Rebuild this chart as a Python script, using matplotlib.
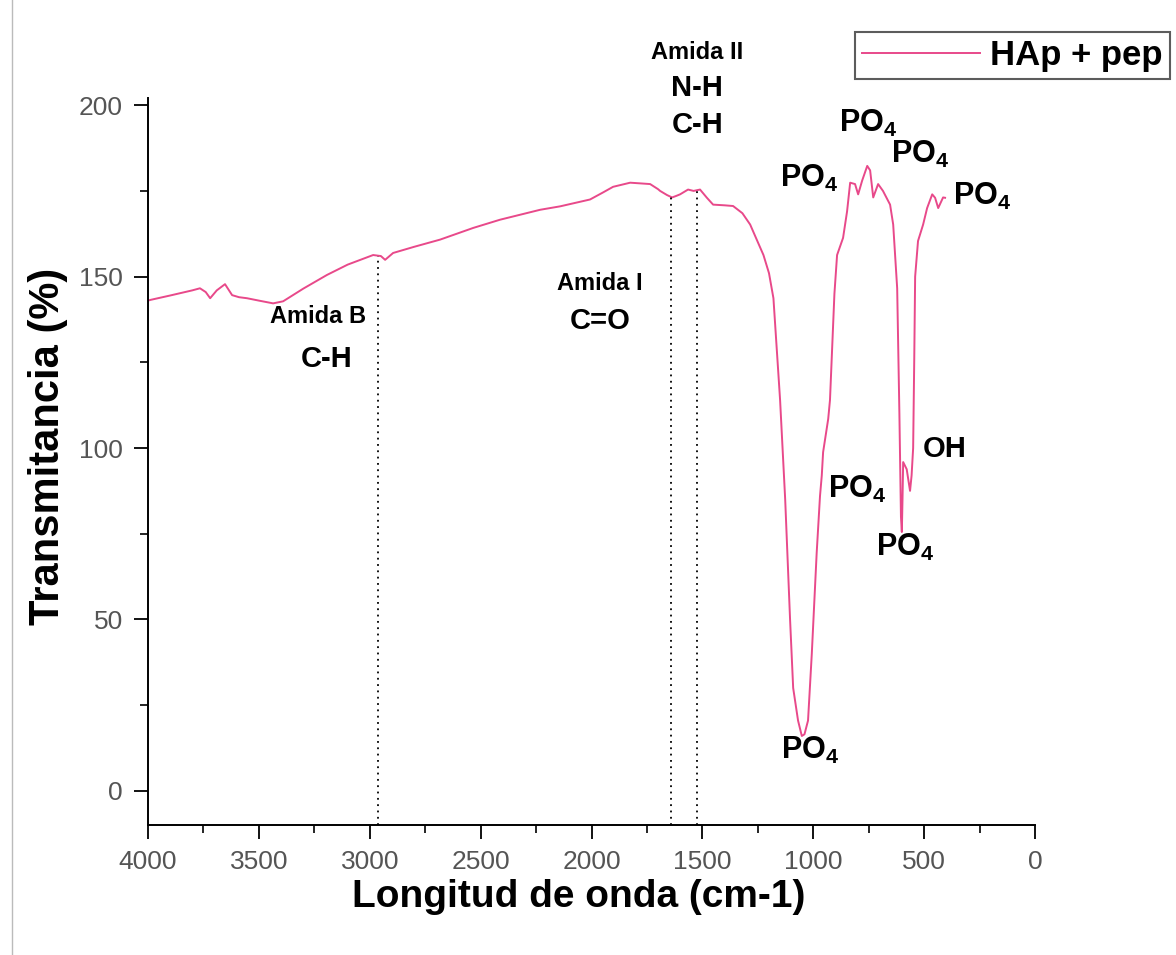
import numpy as np
import matplotlib.pyplot as plt
from matplotlib.lines import Line2D
from matplotlib.ticker import MultipleLocator

plt.rcParams['font.family'] = ['Liberation Sans', 'DejaVu Sans']
plt.rcParams['mathtext.fontset'] = 'custom'
plt.rcParams['mathtext.rm'] = 'Liberation Sans:bold'
plt.rcParams['mathtext.it'] = 'Liberation Sans:bold'
plt.rcParams['mathtext.bf'] = 'Liberation Sans:bold'

# FTIR spectrum (wavenumber cm-1, transmittance %)
wavenumber = [4000, 3990, 3900, 3800, 3766, 3740, 3720, 3690, 3653, 3621, 3590, 3554,
              3500, 3436, 3391, 3300, 3193, 3100, 2985, 2950, 2931, 2895, 2800, 2683,
              2534, 2413, 2232, 2142, 2007, 1950, 1903, 1826, 1780, 1736, 1700, 1691,
              1660, 1637, 1620, 1601, 1565, 1540, 1511, 1480, 1452, 1400, 1362, 1320,
              1285, 1250, 1225, 1200, 1180, 1150, 1127, 1105, 1091, 1069, 1052, 1040,
              1024, 1007, 985, 970, 962, 956, 933, 925, 905, 893, 866, 848, 834, 812,
              798, 780, 757, 744, 730, 708, 686, 654, 640, 622, 612, 605, 601, 598,
              595, 579, 570, 564, 557, 550, 545, 541, 528, 505, 487, 464, 451, 437,
              415, 406]
transmittance = [143.0, 143.2, 144.5, 146.0, 146.6, 145.5, 143.7, 146.0, 147.8, 144.6, 144.0, 143.7,
                 143.0, 142.2, 142.8, 146.5, 150.5, 153.5, 156.3, 156.0, 154.9, 156.9, 158.7, 160.8,
                 164.2, 166.6, 169.5, 170.5, 172.5, 174.5, 176.2, 177.4, 177.2, 177.0, 175.5, 175.0,
                 173.8, 173.1, 173.5, 174.0, 175.4, 175.0, 175.4, 173.0, 171.0, 170.8, 170.6, 168.5,
                 165.2, 160.0, 156.3, 151.0, 143.7, 114.0, 85.0, 50.0, 30.0, 20.5, 16.0, 16.5,
                 20.5, 40.0, 69.4, 86.0, 92.0, 98.8, 108.5, 114.0, 145.0, 156.3, 161.3, 169.0, 177.4, 177.0,
                 174.0, 178.0, 182.3, 181.0, 173.1, 177.0, 175.0, 171.0, 165.2, 146.6, 110.0, 80.0, 75.5, 85.0,
                 95.9, 93.8, 90.0, 87.5, 92.0, 100.0, 126.0, 150.0, 160.4, 165.2, 170.0, 174.0, 173.0, 170.0,
                 173.1, 173.0]

band_lines = [2965, 1640, 1525]

labels = [("Amida B", 3233, 138.3, 17), ("C-H", 3197, 126, 21),
          ("Amida I", 1962, 148, 17), ("C=O", 1962, 137, 21),
          ("Amida II", 1524, 215.4, 17), ("N-H", 1524, 205, 21), ("C-H", 1524, 194.3, 21),
          ("PO$_4$", 1019, 178.7, 22), ("PO$_4$", 753, 194.8, 22), ("PO$_4$", 519, 185.5, 22),
          ("PO$_4$", 239, 173.5, 22), ("PO$_4$", 803, 88, 22), ("PO$_4$", 586, 71, 22),
          ("OH", 406, 99.6, 21), ("PO$_4$", 1015, 11.7, 22)]

color = '#e8498a'

fig = plt.figure(figsize=(11.76, 9.55), dpi=100)
ax = fig.add_axes([0.1259, 0.136, 0.7543, 0.761])

ax.plot(wavenumber, transmittance, color=color, lw=1.4, label='HAp + pep')

wn_inc = wavenumber[::-1]
tr_inc = transmittance[::-1]
for b in band_lines:
    top = np.interp(b, wn_inc, tr_inc)
    ax.plot([b, b], [-10, top], color='black', ls=(0, (1, 2.5)), lw=1.3)

for txt, x, y, fs in labels:
    ax.text(x, y, txt, ha='center', va='center', fontsize=fs, fontweight='bold', clip_on=False)

ax.set_xlim(4000, 0)
ax.set_ylim(-10, 202)
ax.xaxis.set_major_locator(MultipleLocator(500))
ax.xaxis.set_minor_locator(MultipleLocator(250))
ax.yaxis.set_major_locator(MultipleLocator(50))
ax.yaxis.set_minor_locator(MultipleLocator(25))
ax.set_yticks([0, 50, 100, 150, 200])
ax.tick_params(which='major', direction='out', length=10, width=1.3, labelsize=19, labelcolor='#555555', pad=8)
ax.tick_params(which='minor', direction='out', length=6, width=1.2)
for s in ['top', 'right']:
    ax.spines[s].set_visible(False)
for s in ['left', 'bottom']:
    ax.spines[s].set_linewidth(1.4)

ax.set_xlabel('Longitud de onda (cm-1)', fontsize=28, fontweight='bold')
ax.set_ylabel('Transmitancia (%)', fontsize=30, fontweight='bold')
ax.xaxis.set_label_coords(0.485, -0.074)
ax.yaxis.set_label_coords(-0.09, 0.521)

leg = fig.legend(loc='upper left', bbox_to_anchor=(855 / 1176, 1 - 32 / 955),
                 prop={'size': 25, 'weight': 'bold'}, frameon=True, fancybox=False,
                 handlelength=3.4, borderpad=0.2, handletextpad=0.3, borderaxespad=0)
leg.get_frame().set_edgecolor('#333333')
leg.get_frame().set_linewidth(1.5)

fig.add_artist(Line2D([12 / 1176, 12 / 1176], [0, 1], transform=fig.transFigure, color='#bbbbbb', lw=1))

fig.savefig('out.png', dpi=100)
